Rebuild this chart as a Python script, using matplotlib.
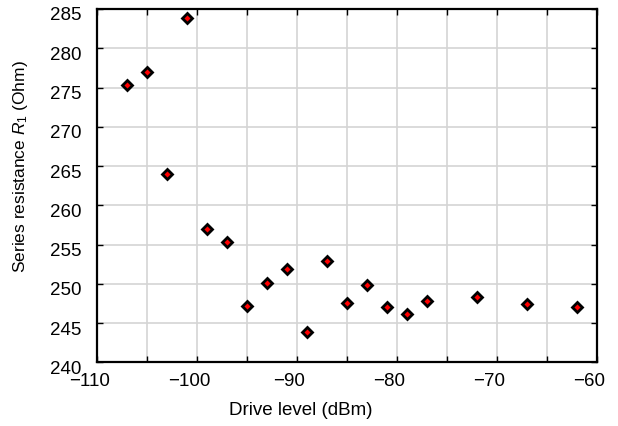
import matplotlib
matplotlib.use('Agg')
import matplotlib.pyplot as plt
from matplotlib.ticker import MultipleLocator
from matplotlib.transforms import ScaledTranslation

# data
drive_level = [-107, -105, -103, -101, -99, -97, -95, -93, -91, -89, -87,
               -85, -83, -81, -79, -77, -72, -67, -62]
resistance = [275.3, 277.0, 264.0, 283.9, 257.0, 255.3, 247.2, 250.1, 251.9,
              243.8, 252.9, 247.5, 249.8, 247.1, 246.1, 247.75, 248.3, 247.4, 247.0]

x_ticks = [-110, -100, -90, -80, -70, -60]
y_ticks = [240, 245, 250, 255, 260, 265, 270, 275, 280, 285]

plt.rcParams['font.family'] = ['Liberation Sans', 'DejaVu Sans']
plt.rcParams['mathtext.fontset'] = 'custom'
plt.rcParams['mathtext.rm'] = 'Liberation Sans'
plt.rcParams['mathtext.it'] = 'Liberation Sans:italic'

fig = plt.figure(figsize=(6.18, 4.26), dpi=100)
ax = fig.add_axes([0.1565, 0.1495, 0.809, 0.8294])

ax.plot(drive_level, resistance, linestyle='none', marker='D', markersize=5.2,
        markerfacecolor='red', markeredgecolor='black', markeredgewidth=2.0,
        zorder=3)

# axis
ax.set_xlim(-110, -60)
ax.set_ylim(240, 285)
ax.set_xticks(x_ticks)
ax.xaxis.set_minor_locator(MultipleLocator(5))
ax.set_yticks(y_ticks)
ax.tick_params(which='both', direction='in', top=True, right=True,
               length=4, width=1, labelsize=13.5)
ax.tick_params(axis='x', pad=8)
ax.tick_params(axis='y', pad=11)
ax.grid(True, which='both', color='#d4d4d4', linewidth=1.2, zorder=0)
ax.set_axisbelow(True)
for s in ax.spines.values():
    s.set_linewidth(1.6)

# the reference tick labels sit a little off their ticks
for lab in ax.get_xticklabels():
    lab.set_transform(lab.get_transform() + ScaledTranslation(-0.075, 0, fig.dpi_scale_trans))
for lab in ax.get_yticklabels():
    lab.set_transform(lab.get_transform() + ScaledTranslation(0, -0.05, fig.dpi_scale_trans))

ax.set_xlabel('Drive level (dBm)', fontsize=13.5)
ax.set_ylabel('Series resistance $\\mathit{R}_1$ (Ohm)', fontsize=12.5)
ax.xaxis.label.set_verticalalignment('center')
ax.yaxis.label.set_verticalalignment('center')
ax.xaxis.set_label_coords(0.409, -0.135)
ax.yaxis.set_label_coords(-0.153, 0.553)

fig.savefig('out.png', dpi=100)
